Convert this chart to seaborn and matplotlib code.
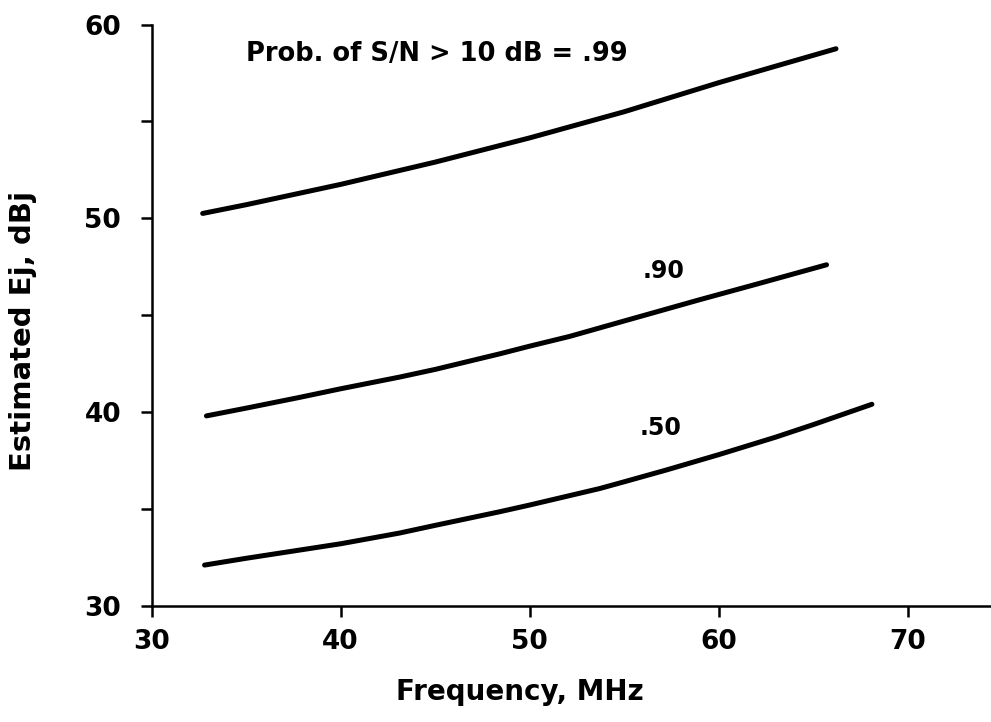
import pandas as pd
import matplotlib.pyplot as plt
import seaborn as sns

# curves (frequency in MHz, Ej in dBj)
freq_99 = [32.7, 35, 40, 45, 50, 55, 60, 63, 66.2]
ej_99 = [50.25, 50.7, 51.75, 52.9, 54.15, 55.5, 57.0, 57.85, 58.75]

freq_90 = [32.9, 35, 37.8, 40, 43.1, 45, 48.4, 50, 52.1, 55, 59, 62, 65.7]
ej_90 = [39.8, 40.2, 40.75, 41.2, 41.8, 42.2, 43.0, 43.4, 43.9, 44.7, 45.8, 46.6, 47.6]

freq_50 = [32.8, 35, 40, 43.1, 45, 48.4, 50, 53.7, 55, 57.2, 60, 63, 65, 68.1]
ej_50 = [32.1, 32.45, 33.2, 33.75, 34.15, 34.85, 35.2, 36.05, 36.4, 37.0, 37.8, 38.7, 39.35, 40.4]

probs = ['.99', '.90', '.50']

df = pd.concat([
    pd.DataFrame({'freq': f, 'ej': e, 'prob': p})
    for f, e, p in zip([freq_99, freq_90, freq_50], [ej_99, ej_90, ej_50], probs)
])

sns.set_style("ticks")
plt.rcParams['font.family'] = ['DejaVu Sans']
plt.rcParams['font.weight'] = 'bold'
plt.rcParams['text.color'] = 'black'
plt.rcParams['axes.labelcolor'] = 'black'

fig = plt.figure(figsize=(9.91, 7.22), dpi=100)
ax = fig.add_axes([0.153, 0.161, 0.847, 0.805])

sns.lineplot(data=df, x='freq', y='ej', hue='prob', sort=False, estimator=None,
             palette={p: 'black' for p in probs}, linewidth=3.6, legend=False, ax=ax)

ax.set_xlim(30, 74.4)
ax.set_ylim(30, 60)
ax.set_xticks([30, 40, 50, 60, 70])
ax.set_yticks([30, 40, 50, 60])
ax.set_yticks([35, 45, 55], minor=True)
ax.tick_params(axis='both', which='both', direction='out', length=8, width=1.8,
               labelsize=19, colors='black')
ax.tick_params(axis='y', pad=14)
ax.tick_params(axis='x', pad=9)
for lab in ax.get_xticklabels() + ax.get_yticklabels():
    lab.set_fontweight('bold')

sns.despine(ax=ax)
for s in ['left', 'bottom']:
    ax.spines[s].set_linewidth(1.8)
    ax.spines[s].set_color('black')

ax.set_xlabel("Frequency, MHz", fontsize=20, fontweight='bold')
ax.set_ylabel("Estimated Ej, dBj", fontsize=21, fontweight='bold')
ax.xaxis.set_label_coords(0.439, -0.125)
ax.yaxis.set_label_coords(-0.137, 0.473)

ax.text(35.0, 58.5, "Prob. of S/N > 10 dB = .99", fontsize=18.5, fontweight='bold',
        va='center', ha='left')
ax.text(57.1, 47.3, ".90", fontsize=17, fontweight='bold', va='center', ha='center')
ax.text(56.9, 39.2, ".50", fontsize=17, fontweight='bold', va='center', ha='center')

plt.savefig("out.png", dpi=100)
